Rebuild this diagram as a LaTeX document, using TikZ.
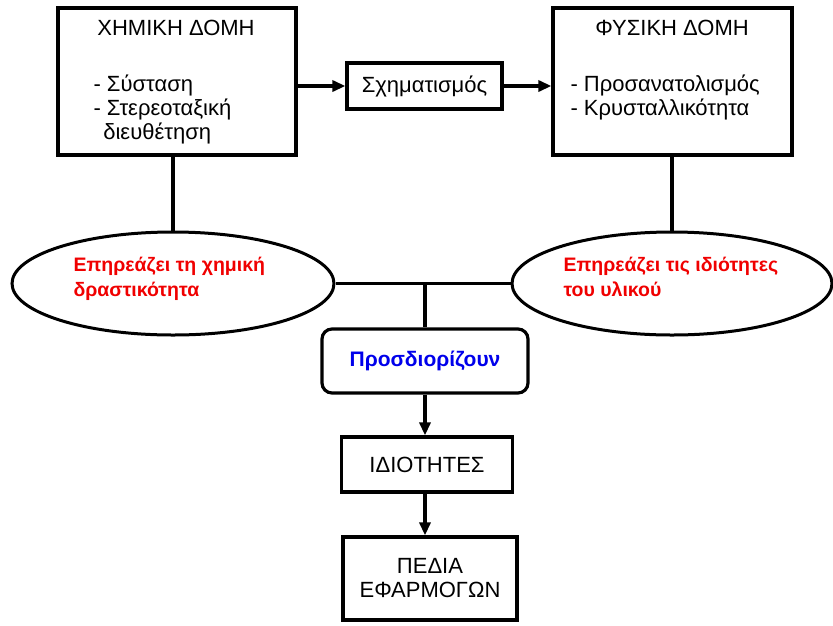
\documentclass[tikz,border=0pt]{standalone}
\usepackage{fontspec}
\setmainfont{Liberation Sans}
\usetikzlibrary{arrows.meta,shapes.geometric,positioning}

\definecolor{effred}{RGB}{240,0,0}
\definecolor{detblue}{RGB}{0,0,235}

\tikzset{
  frame/.style={draw, line width=3.2pt, inner sep=0pt},
  effect/.style={draw, ellipse, line width=3pt, inner sep=0pt},
  wire/.style={line width=3.2pt},
  flow/.style={line width=3.2pt, -{Triangle[length=13pt,width=11pt]}},
  plain/.style={font=\fontsize{22}{24}\selectfont},
  redtext/.style={font=\bfseries\fontsize{19.5}{25}\selectfont, text=effred, align=left},
}

\begin{document}
\begin{tikzpicture}[x=1pt, y=-1pt]
          \useasboundingbox (0,0) rectangle (833,625);

          % Structure boxes
          \node[frame, minimum width=238pt, minimum height=147pt] (chem) at (177,81.5) {};
          \node[frame, minimum width=239pt, minimum height=147pt] (phys) at (672.5,81.5) {};
          \node[frame, plain, minimum width=155pt, minimum height=46pt] (shape) at (424.5,86) {Σχηματισμός};

          % Texts of the structure boxes
          \node[plain] (chemtitle) at (176,28) {ΧΗΜΙΚΗ ΔΟΜΗ};
          \node[plain, anchor=north west, align=left] (chemlist) at (90,71)
            {- Σύσταση\\- Στερεοταξική\\\ \,διευθέτηση};
          \node[plain] (phystitle) at (672,28) {ΦΥΣΙΚΗ ΔΟΜΗ};
          \node[plain, anchor=north west, align=left] (physlist) at (567,71)
            {- Προσανατολισμός\\- Κρυσταλλικότητα};

          % Arrows through the shaping box
          \draw[flow] (chem.east |- shape) -- (shape.west);
          \draw[flow] (shape.east) -- (phys.west |- shape);

          % Effects
          \node[effect, minimum width=322pt, minimum height=103pt] (chemeff) at (173,283.5) {};
          \node[effect, minimum width=320pt, minimum height=103pt] (physeff) at (672,283.5) {};
          \node[redtext, anchor=north west] (chemefftext) at (70,254) {Επηρεάζει τη χημική\\δραστικότητα};
          \node[redtext, anchor=north west] (physefftext) at (560,254) {Επηρεάζει τις ιδιότητες\\του υλικού};

          \draw[wire] (chemeff.north) -- (chemeff.north |- chem.south);
          \draw[wire] (physeff.north) -- (physeff.north |- phys.south);

          % Joining line
          \draw[wire] (chemeff.east) -- (physeff.west);
          \coordinate (junction) at (425,283.5);

          \node[draw, line width=3.2pt, rounded corners=10pt, minimum width=206pt, minimum height=64pt,
                font=\bfseries\fontsize{21}{24}\selectfont, text=detblue] (determine) at (425,361) {Προσδιορίζουν};
          \draw[wire] (junction) -- (determine.north);

          % Properties and applications
          \node[frame, plain, minimum width=171pt, minimum height=55pt] (props) at (427,464.5) {ΙΔΙΟΤΗΤΕΣ};
          \node[frame, plain, minimum width=174pt, minimum height=83pt, align=center] (fields) at (430,578.5)
            {ΠΕΔΙΑ\\ΕΦΑΡΜΟΓΩΝ};

          \draw[flow] (determine.south) -- (determine.south |- props.north);
          \draw[flow] (determine.south |- props.south) -- (determine.south |- fields.north);
\end{tikzpicture}
\end{document}
